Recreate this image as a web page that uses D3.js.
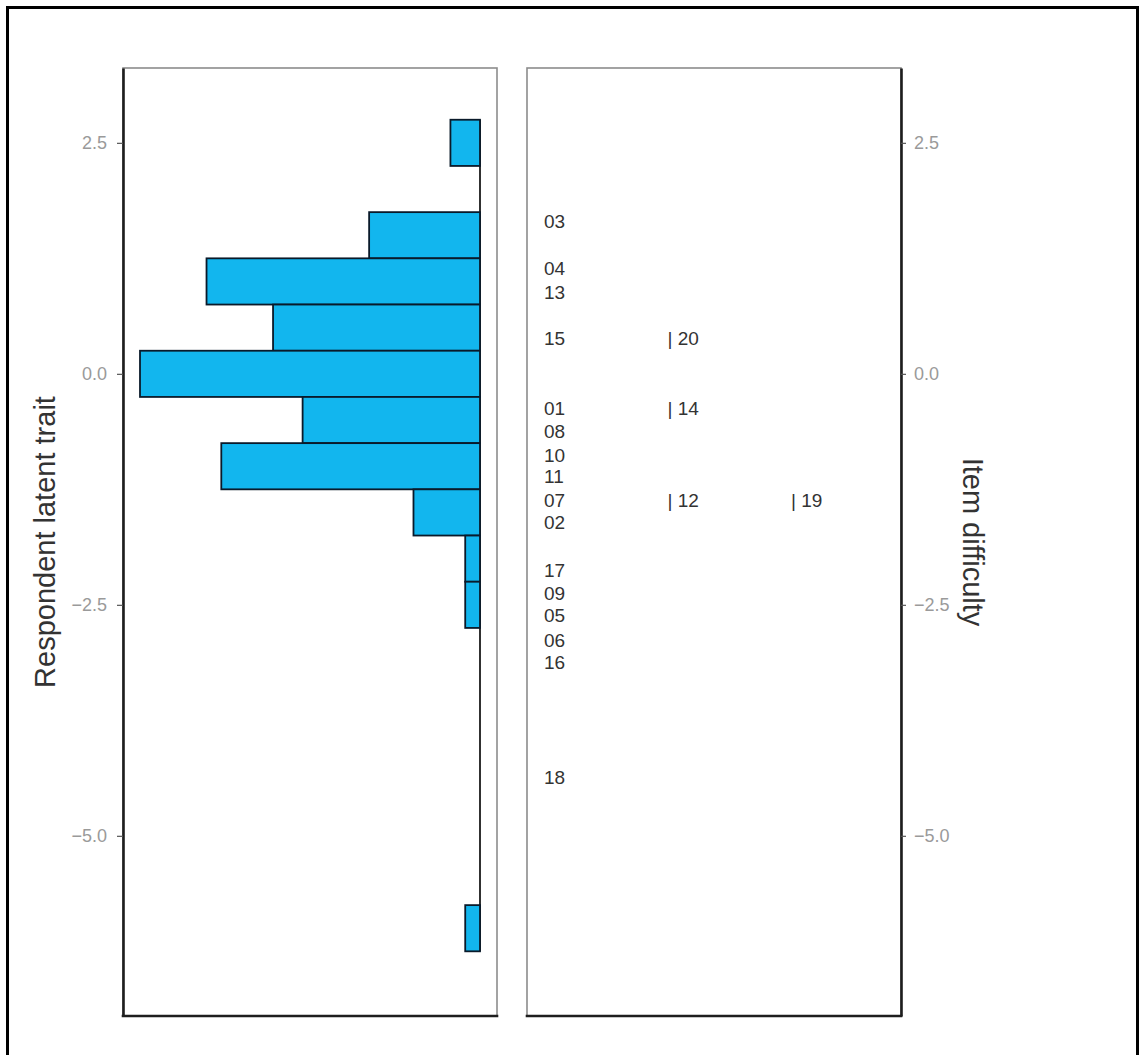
<!DOCTYPE html>
<html>
<head>
<meta charset="utf-8">
<script src="https://cdn.jsdelivr.net/npm/d3@7"></script>
<style>
  html, body { margin: 0; padding: 0; background: #fff; }
  svg { display: block; font-family: "Liberation Sans", Arial, sans-serif; }
</style>
</head>
<body>
<div id="chart"></div>
<script>
// histogram of respondent latent trait (bin midpoints, bin width 0.5)
const binMids = [2.5, 1.5, 1.0, 0.5, 0.0, -0.5, -1.0, -1.5, -2.0, -2.5, -6.0];
const binCounts = [4, 15, 37, 28, 46, 24, 35, 9, 2, 2, 2];
const binWidth = 0.5;

// item difficulties, labels and map column
const itemNames = ['03', '04', '13', '15', '01', '08', '10', '11', '07', '02', '17', '09', '05', '06', '16', '18', '| 20', '| 14', '| 12', '| 19'];
const itemDiff = [1.65, 1.14, 0.88, 0.39, -0.37, -0.62, -0.88, -1.11, -1.37, -1.61, -2.12, -2.37, -2.61, -2.88, -3.12, -4.37, 0.39, -0.37, -1.37, -1.37];
const itemCol = [1, 1, 1, 1, 1, 1, 1, 1, 1, 1, 1, 1, 1, 1, 1, 1, 2, 2, 2, 3];

const yTicks = [2.5, 0.0, -2.5, -5.0];

const W = 1140, H = 1055;
const pTop = 68, pBottom = 1016;
const left1 = 123, right1 = 497;   // histogram panel
const left2 = 527, right2 = 901;   // item panel

const svg = d3.select('#chart').append('svg')
    .attr('width', W)
    .attr('height', H);

// outer frame
svg.append('rect')
    .attr('x', 7.5).attr('y', 7.5)
    .attr('width', 1130).attr('height', 1070)
    .attr('fill', 'none')
    .attr('stroke', '#000')
    .attr('stroke-width', 3);

const y = d3.scaleLinear().domain([-6.95, 3.31]).range([pBottom, pTop]);
const maxCount = d3.max(binCounts);
const x = d3.scaleLinear()
    .domain([maxCount * 1.05, -maxCount * 0.05])
    .range([left1, right1]);

// panel borders (light)
function panelBorder(l, r) {
  svg.append('rect')
      .attr('x', l).attr('y', pTop)
      .attr('width', r - l).attr('height', pBottom - pTop)
      .attr('fill', 'none')
      .attr('stroke', '#8c8c8c')
      .attr('stroke-width', 1.6);
}
panelBorder(left1, right1);
panelBorder(left2, right2);

// zero-count baseline across the binned range
const binTop = d3.max(binMids) + binWidth / 2;
const binBot = d3.min(binMids) - binWidth / 2;
svg.append('line')
    .attr('x1', x(0)).attr('x2', x(0))
    .attr('y1', y(binTop)).attr('y2', y(binBot))
    .attr('stroke', '#1a1a1a')
    .attr('stroke-width', 1.8);

// histogram bars
svg.selectAll('.bar')
    .data(binMids.map((m, i) => ({ mid: m, count: binCounts[i] })))
    .enter()
    .append('rect')
    .attr('class', 'bar')
    .attr('x', d => x(d.count))
    .attr('y', d => y(d.mid + binWidth / 2))
    .attr('width', d => x(0) - x(d.count))
    .attr('height', d => y(d.mid - binWidth / 2) - y(d.mid + binWidth / 2))
    .attr('fill', '#12b6ee')
    .attr('stroke', '#0a1a2a')
    .attr('stroke-width', 1.8);

// item labels
const colX = d3.scaleLinear().domain([1, 3]).range([544, 791]);
svg.selectAll('.item')
    .data(itemNames.map((n, i) => ({ name: n, diff: itemDiff[i], col: itemCol[i] })))
    .enter()
    .append('text')
    .attr('class', 'item')
    .attr('x', d => colX(d.col))
    .attr('y', d => y(d.diff))
    .attr('dy', '0.36em')
    .attr('font-size', 19)
    .attr('fill', '#333')
    .text(d => d.name);

// axes
const fmt = d3.format('.1f');
const axL = svg.append('g')
    .attr('transform', `translate(${left1},0)`)
    .call(d3.axisLeft(y).tickValues(yTicks).tickFormat(fmt).tickSize(6).tickSizeOuter(0).tickPadding(10));
const axR = svg.append('g')
    .attr('transform', `translate(${right2},0)`)
    .call(d3.axisRight(y).tickValues(yTicks).tickFormat(fmt).tickSize(5).tickSizeOuter(0).tickPadding(8));
[axL, axR].forEach(ax => {
  ax.select('.domain').attr('stroke', '#1e1e1e').attr('stroke-width', 2.6);
  ax.selectAll('.tick line').attr('stroke', '#555').attr('stroke-width', 1.2);
  ax.selectAll('.tick text')
      .attr('font-size', 18)
      .attr('font-family', '"Liberation Sans", Arial, sans-serif')
      .attr('fill', '#9a9a9a');
});

// bottom axis lines (no ticks)
[[left1, right1], [left2, right2]].forEach(([l, r]) => {
  svg.append('line')
      .attr('x1', l - 1.3).attr('x2', r + 1.3)
      .attr('y1', pBottom).attr('y2', pBottom)
      .attr('stroke', '#1e1e1e')
      .attr('stroke-width', 2.6);
});

// axis titles
svg.append('text')
    .attr('transform', `translate(55,542) rotate(-90)`)
    .attr('text-anchor', 'middle')
    .attr('font-size', 29)
    .attr('fill', '#333')
    .text('Respondent latent trait');

svg.append('text')
    .attr('transform', `translate(963,542) rotate(90)`)
    .attr('text-anchor', 'middle')
    .attr('font-size', 29)
    .attr('fill', '#333')
    .text('Item difficulty');
</script>
</body>
</html>
